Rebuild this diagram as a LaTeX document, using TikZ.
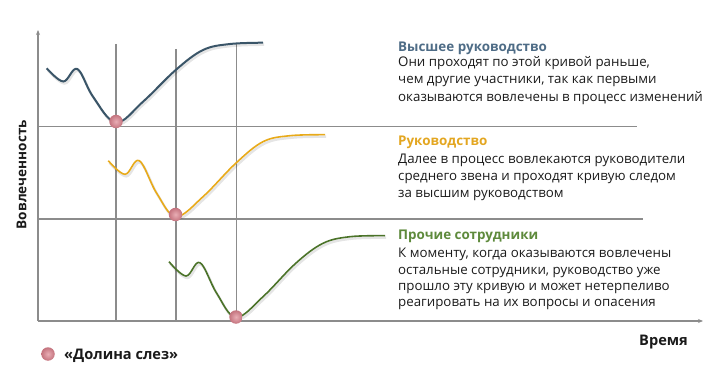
\documentclass[tikz,border=0pt]{standalone}
\usepackage{fontspec}
\setmainfont{Open Sans}
\usetikzlibrary{arrows.meta}
\definecolor{gridc}{HTML}{8C8C8C}
\definecolor{topc}{HTML}{3A5568}
\definecolor{toptitle}{HTML}{4E6C86}
\definecolor{midc}{HTML}{E8AA1A}
\definecolor{midtitle}{HTML}{E3A621}
\definecolor{lowc}{HTML}{4B7329}
\definecolor{lowtitle}{HTML}{5E8A3C}
\definecolor{txt}{HTML}{1A1A1A}
\definecolor{dotin}{HTML}{E9AEB5}
\definecolor{dotout}{HTML}{C4737E}
\begin{document}
\begin{tikzpicture}[x=1pt,y=-1pt,
  gridline/.style={gridc, line width=1.1pt},
  axisline/.style={gridc, line width=1.1pt, -{Stealth[length=5pt,width=4pt]}},
  curveshadow/.style={black, opacity=0.1, line width=2.5pt},
  bodytxt/.style={anchor=base west, inner sep=0pt, text=txt, font=\fontsize{13.3}{15}\selectfont},
  titletxt/.style={anchor=base west, inner sep=0pt, font=\fontsize{13.4}{15}\selectfont\bfseries},
  boldtxt/.style={inner sep=0pt, text=txt, font=\fontsize{14.6}{16}\selectfont\bfseries},
  valley/.style={circle, minimum size=13.5pt, inner sep=0pt, draw=none, shading=radial, inner color=dotin, outer color=dotout}]
\useasboundingbox (0,0) rectangle (720,374);

% coordinates for grid
\coordinate (o) at (38,321);
\coordinate (ytop) at (38,30);
\coordinate (xend) at (703,321);
\coordinate (h1a) at (38,126.5);
\coordinate (h1b) at (637,126.5);
\coordinate (h2a) at (38,219);
\coordinate (h2b) at (643,219);
\coordinate (v1a) at (116,44);
\coordinate (v1b) at (116,321);
\coordinate (v2a) at (176,49);
\coordinate (v2b) at (176,321);
\coordinate (v3a) at (236.5,44);
\coordinate (v3b) at (236.5,321);

\draw[gridline] (h1a) -- (h1b);
\draw[gridline] (h2a) -- (h2b);
\draw[gridline] (v1a) -- (v1b);
\draw[gridline] (v2a) -- (v2b);
\draw[gridline] (v3a) -- (v3b);
\draw[axisline] (o) -- (ytop);
\draw[axisline] (o) -- (xend);

% curves (shadows)
\begin{scope}[shift={(1.2,2)}]
\draw[curveshadow] plot[smooth, tension=0.6] coordinates {(46.7,68.3) (63.3,81.5) (77.3,69) (93,96.7) (116,122.5) (143,101.7) (175.7,70) (203,50) (230,44) (263,42.7)};
\draw[curveshadow] plot[smooth, tension=0.6] coordinates {(108.3,160.7) (125,174.3) (139.3,160.7) (156.7,193.3) (176,216.5) (203,196.7) (235.7,163.3) (263,141.7) (290,135.7) (325,134.7)};
\draw[curveshadow] plot[smooth, tension=0.6] coordinates {(169,261.7) (186,276) (200,262.7) (216.7,293.3) (236,317.3) (263,296.7) (295.7,263.3) (323,243.3) (350,236.7) (385,235.7)};
\end{scope}
% curves
\draw[topc, line width=2pt] plot[smooth, tension=0.6] coordinates {(46.7,68.3) (63.3,81.5) (77.3,69) (93,96.7) (116,122.5) (143,101.7) (175.7,70) (203,50) (230,44) (263,42.7)};
\draw[midc, line width=1.6pt] plot[smooth, tension=0.6] coordinates {(108.3,160.7) (125,174.3) (139.3,160.7) (156.7,193.3) (176,216.5) (203,196.7) (235.7,163.3) (263,141.7) (290,135.7) (325,134.7)};
\draw[lowc, line width=1.6pt] plot[smooth, tension=0.6] coordinates {(169,261.7) (186,276) (200,262.7) (216.7,293.3) (236,317.3) (263,296.7) (295.7,263.3) (323,243.3) (350,236.7) (385,235.7)};

% valley dots
\node[valley] (d1) at (116,121.5) {};
\node[valley] (d2) at (175.5,214.5) {};
\node[valley] (d3) at (236,317) {};

% text block 1
\node[titletxt, text=toptitle] (t1) at (398,51.7) {Высшее руководство};
\node[bodytxt] (t1a) at (398,66.8) {Они проходят по этой кривой раньше,};
\node[bodytxt] (t1b) at (398,84) {чем другие участники, так как первыми};
\node[bodytxt] (t1c) at (398,101.2) {оказываются вовлечены в процесс изменений};

% text block 2
\node[titletxt, text=midtitle] (t2) at (398,146) {Руководство};
\node[bodytxt] (t2a) at (398,163.3) {Далее в процесс вовлекаются руководители};
\node[bodytxt] (t2b) at (398,180.6) {среднего звена и проходят кривую следом};
\node[bodytxt] (t2c) at (398,197.6) {за высшим руководством};

% text block 3
\node[titletxt, text=lowtitle] (t3) at (398,239.5) {Прочие сотрудники};
\node[bodytxt] (t3a) at (398,257.7) {К моменту, когда оказываются вовлечены};
\node[bodytxt] (t3b) at (398,274) {остальные сотрудники, руководство уже};
\node[bodytxt] (t3c) at (398,290.3) {прошло эту кривую и может нетерпеливо};
\node[bodytxt] (t3d) at (398,306.5) {реагировать на их вопросы и опасения};

% axis labels
\node[boldtxt, anchor=base west] (xl) at (639,345.5) {Время};
\node[boldtxt, rotate=90, font=\fontsize{13.6}{16}\selectfont\bfseries] (yl) at (21.5,174.5) {Вовлеченность};

% legend
\node[valley] (ld) at (48,354) {};
\node[boldtxt, anchor=base west] (lt) at (64,359) {«Долина слез»};
\end{tikzpicture}
\end{document}
